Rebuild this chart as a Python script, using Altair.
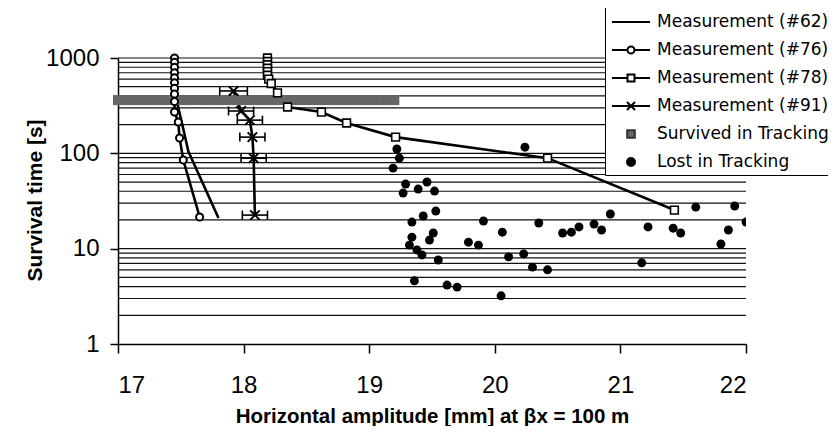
import altair as alt
import pandas as pd

# ---------------- data ----------------
series_names = [
    "Measurement (#62)",
    "Measurement (#76)",
    "Measurement (#78)",
    "Measurement (#91)",
    "Survived in Tracking",
    "Lost in Tracking",
]

x62 = [17.46, 17.46, 17.48, 17.52, 17.56, 17.80]
y62 = [1000, 420, 300, 180, 105, 21]

x76 = [17.45, 17.45, 17.45, 17.45, 17.45, 17.45, 17.45, 17.45, 17.45, 17.45, 17.48, 17.49, 17.52, 17.65]
y76 = [1000, 900, 800, 700, 620, 550, 480, 420, 350, 271, 213, 145, 85, 21.5]

x78 = [18.19, 18.19, 18.19, 18.19, 18.19, 18.19, 18.20, 18.22, 18.27, 18.35, 18.62, 18.82, 19.21, 20.42, 21.43]
y78 = [1000, 920, 850, 780, 720, 660, 600, 540, 430, 306, 271, 208, 148, 89, 25.4]

x91 = [17.92, 17.98, 18.05, 18.07, 18.08, 18.09]
y91 = [451, 278, 223, 148, 89, 22.5]
e91 = [0.11, 0.10, 0.10, 0.10, 0.10, 0.10]

surv_x = [17.00, 17.05, 17.10, 17.15, 17.20, 17.25, 17.30, 17.35, 17.40, 17.45,
          17.50, 17.55, 17.60, 17.65, 17.70, 17.75, 17.80, 17.85, 17.90, 17.95,
          18.00, 18.05, 18.10, 18.15, 18.20, 18.25, 18.30, 18.35, 18.40, 18.45,
          18.50, 18.55, 18.60, 18.65, 18.70, 18.75, 18.80, 18.85, 18.90, 18.95,
          19.00, 19.05, 19.10, 19.15, 19.20]
surv_y = [362] * 45

lost_x = [19.22, 19.24, 19.19, 19.29, 19.27, 19.39, 19.46, 19.52, 20.24, 19.53,
          19.43, 19.34, 19.34, 19.51, 19.48, 19.32, 19.38, 19.42, 19.55, 19.36,
          19.62, 19.70, 20.05, 19.91, 20.06, 19.79, 19.87, 20.11, 20.23, 20.30,
          20.42, 20.35, 20.54, 20.61, 20.67, 20.79, 20.85, 20.92, 21.22, 21.17,
          21.42, 21.48, 21.60, 21.91, 21.86, 21.80, 22.00]
lost_y = [111, 89, 70, 47.6, 38.3, 42.2, 50, 40.2, 116, 24.8,
          22, 19, 13.2, 14.6, 12.3, 10.9, 9.7, 8.6, 7.6, 4.6,
          4.15, 3.95, 3.2, 19.5, 14.9, 11.7, 10.9, 8.2, 8.8, 6.4,
          6.0, 18.6, 14.6, 14.9, 16.9, 18.1, 15.7, 23.1, 16.9, 7.1,
          16.4, 14.6, 27.3, 28, 15.7, 11.2, 19]

grid_y = [2, 3, 4, 5, 6, 7, 8, 9, 10, 20, 30, 40, 50, 60, 70, 80, 90,
          100, 200, 300, 400, 500, 600, 700, 800, 900, 1000]
x_ticks = [17, 18, 19, 20, 21, 22]
y_ticks = [1, 10, 100, 1000]

# ---------------- tables ----------------
df62 = pd.DataFrame({"x": x62, "y": y62})
df76 = pd.DataFrame({"x": x76, "y": y76})
df78 = pd.DataFrame({"x": x78, "y": y78})
df91 = pd.DataFrame({"x": x91, "y": y91, "e": e91})
df91["lo"] = df91["x"] - df91["e"]
df91["hi"] = df91["x"] + df91["e"]
dfs = pd.DataFrame({"x": surv_x, "y": surv_y})
dfl = pd.DataFrame({"x": lost_x, "y": lost_y})
dfg = pd.DataFrame({"y": grid_y})
dfleg = pd.DataFrame({"series": series_names, "x": [16.0] * 6, "y": [10.0] * 6})

# ---------------- scales / axes ----------------
xs = alt.Scale(domain=[17, 22], nice=False, zero=False)
ys = alt.Scale(type="log", domain=[1, 1000], nice=False)

x_axis = alt.Axis(
    values=x_ticks, format="d", grid=False,
    title="Horizontal amplitude [mm] at \u03b2x = 100 m",
    domainColor="black", domainWidth=1.5,
    tickColor="black", tickWidth=1.5, tickSize=9,
    labelFont="Liberation Sans", labelFontSize=24, labelColor="black",
    labelPadding=20,
    titleFont="Liberation Sans", titleFontSize=20.5, titleFontWeight="bold",
    titleColor="black", titleY=72, titleBaseline="middle",
)
y_axis = alt.Axis(
    values=y_ticks, format="d", grid=False,
    title="Survival time [s]",
    domainColor="black", domainWidth=1.5,
    tickColor="black", tickWidth=1.5, tickSize=8,
    labelFont="Liberation Sans", labelFontSize=24, labelColor="black",
    labelPadding=11,
    titleFont="Liberation Sans", titleFontSize=21, titleFontWeight="bold",
    titleColor="black", titleX=-83, titleY=142, titleBaseline="middle",
    titleAlign="center",
)


def X(f="x"):
    return alt.X(f, type="quantitative", scale=xs, axis=x_axis)


def Y(f="y"):
    return alt.Y(f, type="quantitative", scale=ys, axis=y_axis)


X_PATH = "M-1,-1L1,1M-1,1L1,-1"

grid = alt.Chart(dfg).mark_rule(color="#111111", strokeWidth=1.2).encode(y=Y())

line62 = alt.Chart(df62).mark_line(color="black", strokeWidth=2.6).encode(x=X(), y=Y(), order=alt.Order("y:Q", sort="descending"))
line76 = alt.Chart(df76).mark_line(color="black", strokeWidth=2.6).encode(x=X(), y=Y(), order=alt.Order("y:Q", sort="descending"))
line78 = alt.Chart(df78).mark_line(color="black", strokeWidth=2.6).encode(x=X(), y=Y(), order=alt.Order("y:Q", sort="descending"))
line91 = alt.Chart(df91).mark_line(color="black", strokeWidth=2.6).encode(x=X(), y=Y(), order=alt.Order("y:Q", sort="descending"))

band = alt.Chart(dfs).mark_point(shape="square", size=100, filled=True, color="#666666", opacity=1).encode(x=X(), y=Y())

pts76 = alt.Chart(df76).mark_point(shape="circle", size=50, fill="white", stroke="black", strokeWidth=2, opacity=1, filled=True).encode(x=X(), y=Y())
pts78 = alt.Chart(df78).mark_point(shape="square", size=60, fill="white", stroke="black", strokeWidth=1.6, opacity=1, filled=True).encode(x=X(), y=Y())

err91 = alt.Chart(df91).mark_rule(color="black", strokeWidth=1.6).encode(x=X("lo"), x2="hi", y=Y())
capl91 = alt.Chart(df91).mark_tick(color="black", thickness=1.6, size=9, orient="vertical", opacity=1).encode(x=X("lo"), y=Y())
caph91 = alt.Chart(df91).mark_tick(color="black", thickness=1.6, size=9, orient="vertical", opacity=1).encode(x=X("hi"), y=Y())
pts91 = alt.Chart(df91).mark_point(shape=X_PATH, size=90, stroke="black", strokeWidth=2, filled=False, opacity=1).encode(x=X(), y=Y())

lost = alt.Chart(dfl).mark_point(shape="circle", size=80, filled=True, color="black", opacity=1, clip=True).encode(x=X(), y=Y())

# legend carrier (points outside the visible domain, clipped away)
leg_shapes = [
    "M-0.9,0L2.9,0",
    "M-0.9,0L0.65,0M1.35,0L2.9,0M0.65,0A0.35,0.35 0 1,1 1.35,0A0.35,0.35 0 1,1 0.65,0",
    "M-0.9,0L0.65,0M1.35,0L2.9,0M0.65,-0.35L1.35,-0.35L1.35,0.35L0.65,0.35Z",
    "M-0.9,0L2.9,0M0.6,-0.4L1.4,0.4M0.6,0.4L1.4,-0.4",
    "M0.62,-0.38L1.38,-0.38L1.38,0.38L0.62,0.38Z",
    "M0.6,0A0.4,0.4 0 1,1 1.4,0A0.4,0.4 0 1,1 0.6,0",
]
leg_fill = ["white", "white", "white", "white", "#666666", "black"]
leg_stroke = ["black", "black", "black", "black", "#333333", "black"]

legend = alt.Legend(
    orient="none", legendX=487, legendY=-52, title=None,
    padding=5, rowPadding=9, symbolSize=400, symbolStrokeWidth=2,
    labelFont="DejaVu Sans", labelFontSize=17, labelColor="black",
    labelOffset=25, labelLimit=500, strokeColor="black", fillColor="white",
    cornerRadius=0,
)

leg = alt.Chart(dfleg).mark_point(clip=True, opacity=1, filled=False).encode(
    x=X(), y=Y(),
    shape=alt.Shape("series:N", scale=alt.Scale(domain=series_names, range=leg_shapes), legend=legend),
    fill=alt.Fill("series:N", scale=alt.Scale(domain=series_names, range=leg_fill), legend=legend),
    stroke=alt.Stroke("series:N", scale=alt.Scale(domain=series_names, range=leg_stroke), legend=legend),
)

chart = alt.layer(
    grid, line62, line76, line78, line91, band, pts76, pts78,
    err91, capl91, caph91, pts91, lost, leg,
).properties(
    width=628, height=286,
    padding={"left": 110, "top": 50, "right": 82, "bottom": 82},
    autosize=alt.AutoSizeParams(type="none"),
    background="white",
).configure_view(stroke=None)

chart.save("out.html", embed_options={"renderer": "svg", "actions": False})
